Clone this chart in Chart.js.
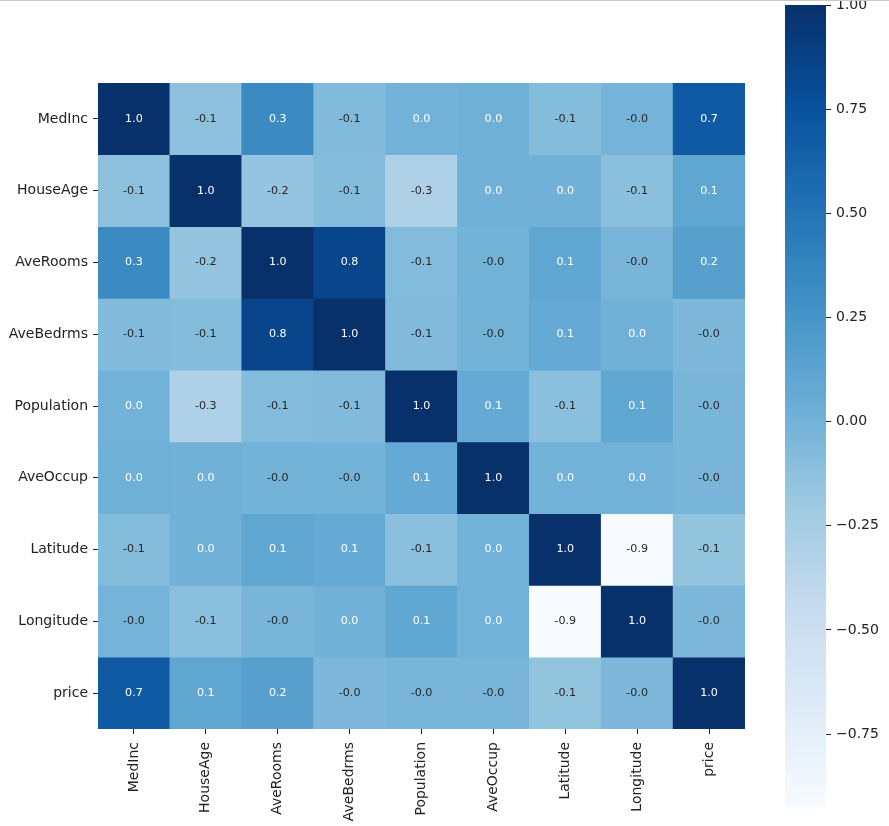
<!DOCTYPE html>
<html>
<head>
<meta charset="utf-8">
<script src="https://cdn.jsdelivr.net/npm/chart.js@4/dist/chart.umd.min.js"></script>
<style>
  html, body { margin: 0; padding: 0; background: #fff; }
  #wrap { position: relative; width: 889px; height: 826px; overflow: hidden; }
  #topline { position: absolute; left: 0; top: 0; width: 889px; height: 1px; background: #c8c8c8; }
  #heat { position: absolute; left: 0; top: 0; }
  #cbar { position: absolute; left: 760px; top: 0; }
</style>
</head>
<body>
<div id="wrap">
  <canvas id="heat" width="889" height="826"></canvas>
  <canvas id="cbar" width="129" height="826"></canvas>
  <div id="topline"></div>
</div>
<script>
// ---- data ----
const features = ['MedInc', 'HouseAge', 'AveRooms', 'AveBedrms', 'Population', 'AveOccup', 'Latitude', 'Longitude', 'price'];
const medIncRow     = [1.000, -0.119, 0.327, -0.062, 0.005, 0.019, -0.080, -0.015, 0.688];
const houseAgeRow   = [-0.119, 1.000, -0.153, -0.078, -0.296, 0.013, 0.011, -0.108, 0.106];
const aveRoomsRow   = [0.327, -0.153, 1.000, 0.848, -0.072, -0.005, 0.106, -0.028, 0.152];
const aveBedrmsRow  = [-0.062, -0.078, 0.848, 1.000, -0.066, -0.006, 0.070, 0.013, -0.047];
const populationRow = [0.005, -0.296, -0.072, -0.066, 1.000, 0.070, -0.109, 0.100, -0.025];
const aveOccupRow   = [0.019, 0.013, -0.005, -0.006, 0.070, 1.000, 0.002, 0.002, -0.024];
const latitudeRow   = [-0.080, 0.011, 0.106, 0.070, -0.109, 0.002, 1.000, -0.925, -0.144];
const longitudeRow  = [-0.015, -0.108, -0.028, 0.013, 0.100, 0.002, -0.925, 1.000, -0.046];
const priceRow      = [0.688, 0.106, 0.152, -0.047, -0.025, -0.024, -0.144, -0.046, 1.000];
const rows = [medIncRow, houseAgeRow, aveRoomsRow, aveBedrmsRow, populationRow, aveOccupRow, latitudeRow, longitudeRow, priceRow];
const colorbarTicks = [-0.75, -0.5, -0.25, 0, 0.25, 0.5, 0.75, 1.0];

// ---- colour map (matplotlib Blues) ----
const bluesStops = ['#f7fbff','#deebf7','#c6dbef','#9ecae1','#6baed6','#4292c6','#2171b5','#08519c','#08306b'];
const allVals = rows.flat();
const vmin = Math.min(...allVals);
const vmax = Math.max(...allVals);
function hexToRgb(h) { return [1,3,5].map(i => parseInt(h.substr(i,2),16)); }
const stopRgb = bluesStops.map(hexToRgb);
function bluesRgb(v) {
  let t = (v - vmin) / (vmax - vmin);
  t = Math.max(0, Math.min(1, t));
  t = Math.floor(t * 255.999) / 255;
  const p = t * (stopRgb.length - 1);
  const i = Math.min(Math.floor(p), stopRgb.length - 2);
  const f = p - i;
  return stopRgb[i].map((c, k) => Math.round(c + (stopRgb[i+1][k] - c) * f));
}
function rgbStr(c) { return 'rgb(' + c.join(',') + ')'; }
function luminance(c) {
  const l = c.map(x => { x /= 255; return x <= 0.03928 ? x / 12.92 : Math.pow((x + 0.055) / 1.055, 2.4); });
  return 0.2126 * l[0] + 0.7152 * l[1] + 0.0722 * l[2];
}

const FONT = 'DejaVu Sans';
const TXT = '#222222';

const datasets = rows.map((vals, i) => ({
  label: features[i],
  data: features.map(() => [i, i + 1]),
  backgroundColor: vals.map(v => rgbStr(bluesRgb(v))),
  borderWidth: 0,
  barPercentage: 1,
  categoryPercentage: 1,
  grouped: false
}));

const annotPlugin = {
  id: 'annot',
  afterDatasetsDraw(chart) {
    const ctx = chart.ctx;
    ctx.save();
    ctx.font = '11.1px "' + FONT + '"';
    ctx.textAlign = 'center';
    ctx.textBaseline = 'middle';
    rows.forEach((vals, i) => {
      const meta = chart.getDatasetMeta(i);
      meta.data.forEach((el, j) => {
        const v = vals[j];
        const lum = luminance(bluesRgb(v));
        ctx.fillStyle = lum > 0.408 ? '#262626' : '#ffffff';
        ctx.fillText(v.toFixed(1), el.x, (el.y + el.base) / 2);
      });
    });
    ctx.restore();
  }
};

new Chart(document.getElementById('heat'), {
  type: 'bar',
  data: { labels: features, datasets },
  options: {
    responsive: false,
    animation: false,
    layout: { padding: { left: 0, top: 83, right: 144, bottom: 0 } },
    plugins: { legend: { display: false }, tooltip: { enabled: false } },
    scales: {
      x: {
        type: 'category',
        offset: true,
        grid: { offset: false, drawOnChartArea: false, drawTicks: true, tickLength: 5, tickColor: TXT, lineWidth: 1 },
        border: { display: false },
        ticks: { color: TXT, font: { family: FONT, size: 14 }, minRotation: 90, maxRotation: 90, padding: 8, autoSkip: false },
        afterFit(scale) { scale.height = 97; }
      },
      y: {
        type: 'linear',
        min: 0,
        max: features.length,
        reverse: true,
        grid: { drawOnChartArea: false, drawTicks: true, tickLength: 5, tickColor: TXT, lineWidth: 1 },
        border: { display: false },
        afterBuildTicks(scale) { scale.ticks = features.map((_, i) => ({ value: i + 0.5 })); },
        ticks: {
          color: TXT, font: { family: FONT, size: 14 }, padding: 5, autoSkip: false,
          callback: (value) => features[Math.floor(value)]
        },
        afterFit(scale) { scale.width = 98; }
      }
    }
  },
  plugins: [annotPlugin]
});

// ---- colour bar ----
new Chart(document.getElementById('cbar'), {
  type: 'bar',
  data: {
    labels: [''],
    datasets: [{
      data: [[vmin, vmax]],
      borderWidth: 0,
      barPercentage: 1,
      categoryPercentage: 1,
      backgroundColor(ctx) {
        const chart = ctx.chart;
        const area = chart.chartArea;
        if (!area) return bluesStops[4];
        const g = chart.ctx.createLinearGradient(0, area.bottom, 0, area.top);
        bluesStops.forEach((c, i) => g.addColorStop(i / (bluesStops.length - 1), c));
        return g;
      }
    }]
  },
  options: {
    responsive: false,
    animation: false,
    layout: { padding: { left: 25, top: 5, right: 0, bottom: 19 } },
    plugins: { legend: { display: false }, tooltip: { enabled: false } },
    scales: {
      x: { display: false },
      y: {
        position: 'right',
        min: vmin,
        max: vmax,
        grid: { drawOnChartArea: false, drawTicks: true, tickLength: 5, tickColor: TXT, lineWidth: 1 },
        border: { display: false },
        afterBuildTicks(scale) { scale.ticks = colorbarTicks.map(v => ({ value: v })); },
        ticks: {
          color: TXT, font: { family: FONT, size: 14 }, padding: 5,
          callback: (v) => (v < 0 ? '\u2212' : '') + Math.abs(v).toFixed(2)
        },
        afterFit(scale) { scale.width = 63; scale.paddingTop = 0; scale.paddingBottom = 0; }
      }
    }
  }
});
</script>
</body>
</html>
